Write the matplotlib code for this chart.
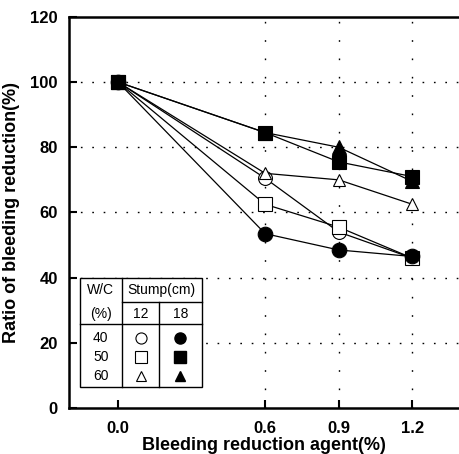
import matplotlib
matplotlib.use("Agg")
import matplotlib.pyplot as plt
from matplotlib.lines import Line2D

plt.rcParams["font.family"] = ["Liberation Sans", "DejaVu Sans"]

# 데이터
agent = [0.0, 0.6, 0.9, 1.2]
wc40_s12 = [100, 70.5, 54.0, 46.0]
wc40_s18 = [100, 53.5, 48.5, 46.5]
wc50_s12 = [100, 62.5, 55.5, 46.0]
wc50_s18 = [100, 84.5, 75.5, 71.0]
wc60_s12 = [100, 72.0, 70.0, 62.5]
wc60_s18 = [100, 84.5, 80.0, 69.5]

xticks = [0.0, 0.6, 0.9, 1.2]
yticks = [0, 20, 40, 60, 80, 100, 120]

fig = plt.figure(figsize=(4.59, 4.54), dpi=100)
ax = fig.add_axes([0.150, 0.101, 0.850, 0.862])

series = [
    (wc40_s12, "o", "white"),
    (wc50_s12, "s", "white"),
    (wc60_s12, "^", "white"),
    (wc40_s18, "o", "black"),
    (wc50_s18, "s", "black"),
    (wc60_s18, "^", "black"),
]
for ys, m, fc in series:
    ms = 10.5 if fc == "black" else 10
    if m == "^":
        ms -= 1
    ax.plot(agent, ys, color="black", linewidth=0.9, marker=m, markersize=ms,
            markerfacecolor=fc, markeredgecolor="black", markeredgewidth=0.8,
            clip_on=False, zorder=3)

ax.set_xlim(-0.2, 1.39)
ax.set_ylim(0, 120)
ax.set_xticks(xticks)
ax.set_xticklabels(["0.0", "0.6", "0.9", "1.2"])
ax.set_yticks(yticks)

# 점선 격자
for y in [20, 40, 60, 80, 100]:
    ax.axhline(y, color="black", linewidth=1.0, linestyle=(0, (1.2, 7)), zorder=1)
for x in [0.6, 0.9, 1.2]:
    ax.axvline(x, color="black", linewidth=1.0, linestyle=(0, (1.2, 12)), zorder=1)

for s in ["left", "bottom", "top"]:
    ax.spines[s].set_linewidth(1.8)
ax.spines["right"].set_visible(False)
ax.tick_params(direction="in", length=6, width=1.5, labelsize=12)
ax.tick_params(axis="y", pad=8)
ax.tick_params(axis="x", pad=9)
for lab in ax.get_xticklabels() + ax.get_yticklabels():
    lab.set_fontweight("bold")

ax.set_xlabel("Bleeding reduction agent(%)", fontsize=13, fontweight="bold", labelpad=1)
ax.set_ylabel("Ratio of bleeding reduction(%)", fontsize=13, fontweight="bold", labelpad=7)

# 범례 표
x0, x1, xa, xb = 0.028, 0.340, 0.136, 0.232
y0, y1 = 0.053, 0.333
yh1, yh2 = 0.270, 0.214
tkw = dict(transform=ax.transAxes, color="black", linewidth=1.0, zorder=5)
ax.add_patch(plt.Rectangle((x0, y0), x1 - x0, y1 - y0, transform=ax.transAxes,
                           facecolor="white", edgecolor="black", linewidth=1.0, zorder=4))
ax.add_line(Line2D([xa, xa], [y0, y1], **tkw))
ax.add_line(Line2D([xb, xb], [y0, yh1], **tkw))
ax.add_line(Line2D([xa, x1], [yh1, yh1], **tkw))
ax.add_line(Line2D([x0, x1], [yh2, yh2], **tkw))

fs = 10
ax.text((x0 + xa) / 2, 0.302, "W/C", transform=ax.transAxes, ha="center", va="center", fontsize=fs, zorder=6)
ax.text((xa + x1) / 2, 0.302, "Stump(cm)", transform=ax.transAxes, ha="center", va="center", fontsize=fs, zorder=6)
ax.text((x0 + xa) / 2, 0.240, "(%)", transform=ax.transAxes, ha="center", va="center", fontsize=fs, zorder=6)
ax.text((xa + xb) / 2, 0.240, "12", transform=ax.transAxes, ha="center", va="center", fontsize=fs, zorder=6)
ax.text((xb + x1) / 2, 0.240, "18", transform=ax.transAxes, ha="center", va="center", fontsize=fs, zorder=6)
rows = [("40", "o"), ("50", "s"), ("60", "^")]
row_y = [0.180, 0.131, 0.082]
for (lab, m), ry in zip(rows, row_y):
    ax.text((x0 + xa) / 2, ry, lab, transform=ax.transAxes, ha="center", va="center", fontsize=fs, zorder=6)
    msz = 8 if m != "^" else 7
    ax.plot([(xa + xb) / 2], [ry], marker=m, markersize=msz, markerfacecolor="white",
            markeredgecolor="black", markeredgewidth=0.8, transform=ax.transAxes, zorder=6)
    ax.plot([(xb + x1) / 2], [ry], marker=m, markersize=msz, markerfacecolor="black",
            markeredgecolor="black", transform=ax.transAxes, zorder=6)

fig.savefig("out.png", dpi=100)
